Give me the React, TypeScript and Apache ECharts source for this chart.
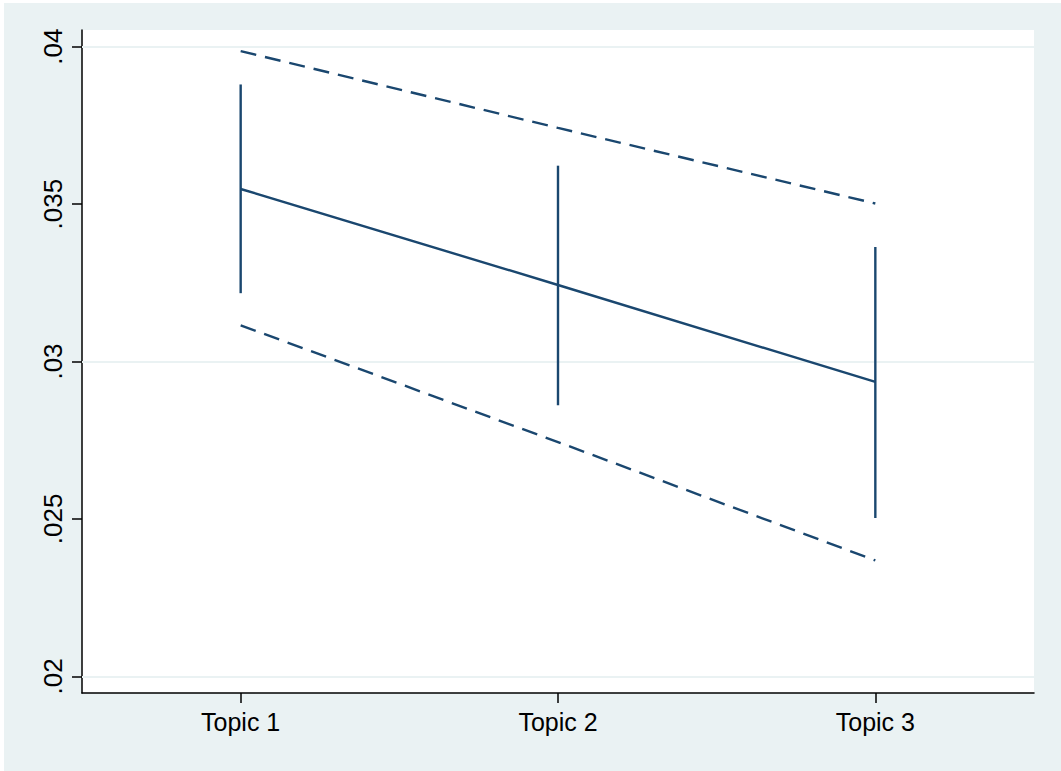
import React, { useEffect, useRef } from "react";
import * as echarts from "echarts";

const categories = ["Topic 1", "Topic 2", "Topic 3"];
const meanValues = [0.03548, 0.03243, 0.02935];
const ciLow = [0.03217, 0.02861, 0.02503];
const ciHigh = [0.0388, 0.03622, 0.03364];
const bandUpper = [0.03986, 0.03742, 0.03502];
const bandLower = [0.03115, 0.02744, 0.02368];
const yTickValues = [0.02, 0.025, 0.03, 0.035, 0.04];
const yTickLabels = [".02", ".025", ".03", ".035", ".04"];
const yMin = 0.01947;
const yMax = 0.04053;

const NAVY = "#1a476f";
const BG = "#EAF2F3";

export default function App() {
  const ref = useRef<HTMLDivElement>(null);
  useEffect(() => {
    if (!ref.current) return;
    const chart = echarts.init(ref.current, null, { renderer: "svg" });
    const fmt = (v: number) => {
      const i = yTickValues.findIndex((t) => Math.abs(t - v) < 1e-9);
      return i >= 0 ? yTickLabels[i] : "";
    };
    chart.setOption({
      animation: false,
      backgroundColor: BG,
      textStyle: { fontFamily: "Liberation Sans, Arial, Helvetica, sans-serif" },
      grid: {
        left: 78,
        top: 27,
        right: 27,
        bottom: 78,
        show: true,
        backgroundColor: "#ffffff",
        borderWidth: 0,
      },
      xAxis: {
        type: "category",
        data: categories,
        boundaryGap: true,
        axisLine: { show: true, lineStyle: { color: "#000", width: 1.5 } },
        axisTick: { show: true, alignWithLabel: true, length: 10, lineStyle: { color: "#000", width: 1.5 } },
        axisLabel: { color: "#000", fontSize: 25, margin: 16 },
        splitLine: { show: false },
      },
      yAxis: {
        type: "value",
        min: yMin,
        max: yMax,
        axisLine: { show: true, lineStyle: { color: "#000", width: 1.5 } },
        axisTick: { show: true, length: 10, customValues: yTickValues, lineStyle: { color: "#000", width: 1.5 } },
        axisLabel: {
          color: "#000",
          fontSize: 26,
          rotate: 90,
          margin: 16,
          customValues: yTickValues,
          formatter: fmt,
        },
        splitLine: { show: false },
      },
      series: [
        {
          type: "line",
          z: 1,
          data: yTickValues.map(() => null),
          silent: true,
          markLine: {
            silent: true,
            symbol: "none",
            label: { show: false },
            lineStyle: { color: BG, width: 2, type: "solid" },
            data: yTickValues.map((v) => ({ yAxis: v })),
          },
        },
        {
          type: "line",
          z: 5,
          data: bandUpper,
          symbol: "none",
          lineStyle: { color: NAVY, width: 2.4, type: [16, 9] },
        },
        {
          type: "line",
          z: 5,
          data: bandLower,
          symbol: "none",
          lineStyle: { color: NAVY, width: 2.4, type: [16, 9] },
        },
        {
          type: "line",
          z: 5,
          data: meanValues,
          symbol: "none",
          lineStyle: { color: NAVY, width: 2.4 },
        },
        {
          type: "custom",
          z: 5,
          data: categories.map((_, i) => [i, ciLow[i], ciHigh[i]]),
          renderItem: (params: any, api: any) => {
            const lo = api.coord([api.value(0), api.value(1)]);
            const hi = api.coord([api.value(0), api.value(2)]);
            return {
              type: "line",
              shape: { x1: lo[0], y1: lo[1], x2: hi[0], y2: hi[1] },
              style: { stroke: NAVY, lineWidth: 2.4 },
            };
          },
        },
      ],
    });
    return () => chart.dispose();
  }, []);
  return (
    <div style={{ position: "fixed", left: 0, top: 0, width: 1061, height: 771, background: "#fff" }}>
      <div ref={ref} style={{ position: "absolute", left: 4, top: 3, width: 1057, height: 768 }} />
    </div>
  );
}
